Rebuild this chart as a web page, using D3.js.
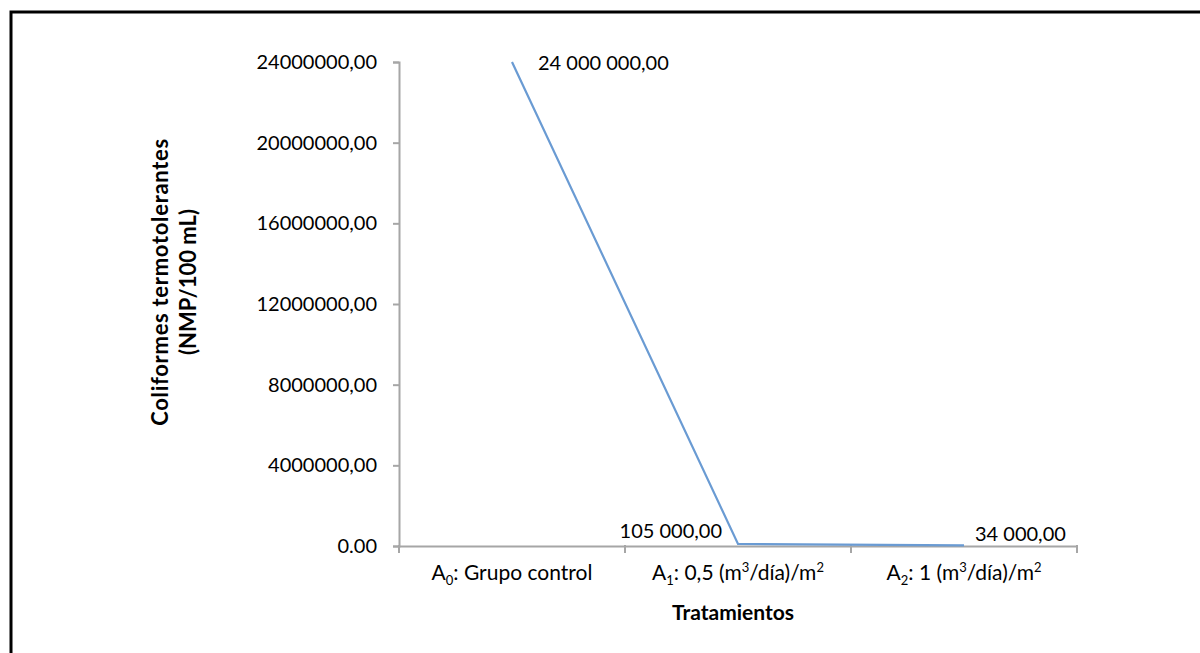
<!DOCTYPE html>
<html><head><meta charset="utf-8">
<script src="https://cdn.jsdelivr.net/npm/d3@7/dist/d3.min.js"></script>
<style>
html,body{margin:0;padding:0;background:#fff;overflow:hidden;}
text{font-family:Lato,"Open Sans",sans-serif;fill:#000;}
</style></head>
<body><svg id="c" width="1200" height="653"></svg>
<script>
const categories = ["A0", "A1", "A2"];
const categoryMain = ["A", "A", "A"];
const categorySub = ["0", "1", "2"];
const categoryRest = [": Grupo control", ": 0,5 (m|3|/día)/m|2", ": 1 (m|3|/día)/m|2"];
const values = [24000000, 105000, 34000];
const valueLabels = ["24 000 000,00", "105 000,00", "34 000,00"];
const yTicks = [0, 4000000, 8000000, 12000000, 16000000, 20000000, 24000000];
const yTickLabels = ["0.00", "4000000,00", "8000000,00", "12000000,00", "16000000,00", "20000000,00", "24000000,00"];
const yTitle = ["Coliformes termotolerantes", "(NMP/100 mL)"];
const xTitle = "Tratamientos";

(function(){
const svg = d3.select("#c");
svg.append("rect").attr("x",11).attr("y",12).attr("width",1300).attr("height",800)
  .attr("fill","none").attr("stroke","#000").attr("stroke-width",3);

const pL=399, pR=1077, pT=62, pB=546;
const x = d3.scaleBand().domain(categories).range([pL,pR]).padding(0);
const y = d3.scaleLinear().domain([0,24000000]).range([pB,pT]);
const axisColor="#a6a6a6";

// Y axis
const yAxis = d3.axisLeft(y).tickValues(yTicks).tickSize(6).tickPadding(16)
  .tickFormat(d=>yTickLabels[yTicks.indexOf(d)]);
const gy = svg.append("g").attr("transform",`translate(${pL},0)`).call(yAxis);
gy.select(".domain").attr("stroke",axisColor).attr("stroke-width",2);
gy.selectAll(".tick line").attr("stroke",axisColor).attr("stroke-width",2);
gy.selectAll(".tick text").attr("font-size",20).attr("font-family","Lato").attr("fill","#000");

// X axis
const gx = svg.append("g").attr("transform",`translate(0,${pB})`)
  .call(d3.axisBottom(x).tickSize(0).tickFormat(""));
gx.select(".domain").attr("stroke",axisColor).attr("stroke-width",2);
const bounds = [pL, ...categories.map(c=>x(c)+x.bandwidth())];
gx.selectAll("line.cat").data(bounds).join("line").attr("class","cat")
  .attr("x1",d=>d).attr("x2",d=>d).attr("y1",-1).attr("y2",7)
  .attr("stroke",axisColor).attr("stroke-width",2);

// category labels
categories.forEach((c,i)=>{
  const t = svg.append("text").attr("x",x(c)+x.bandwidth()/2).attr("y",580)
    .attr("text-anchor","middle").attr("font-size",21);
  t.append("tspan").text(categoryMain[i]);
  t.append("tspan").text(categorySub[i]).attr("font-size",13).attr("dy",5);
  const parts = categoryRest[i].split("|");
  parts.forEach((p,j)=>{
    const ts = t.append("tspan").text(p);
    if(j===0) ts.attr("dy",-5);
    else if(j%2===1) ts.attr("font-size",13).attr("dy",-8);
    else ts.attr("dy",8);
  });
});

// line
const line = d3.line().x((d,i)=>x(categories[i])+x.bandwidth()/2).y(d=>y(d));
svg.append("path").datum(values).attr("d",line).attr("fill","none")
  .attr("stroke","#6a9bd3").attr("stroke-width",2.2);

// data labels
const lblPos = [{dx:26,dy:0,anchor:"start"},{dx:-16,dy:-14,anchor:"end"},{dx:11,dy:-12,anchor:"start"}];
values.forEach((v,i)=>{
  svg.append("text").attr("x",x(categories[i])+x.bandwidth()/2+lblPos[i].dx)
    .attr("y",y(v)+lblPos[i].dy).attr("dominant-baseline","central")
    .attr("text-anchor",lblPos[i].anchor).attr("font-size",20).text(valueLabels[i]);
});

// titles
const yt = svg.append("text").attr("transform","translate(168,282) rotate(-90)")
  .attr("text-anchor","middle").attr("font-size",22).attr("font-weight","bold");
yt.append("tspan").attr("x",0).attr("dy",0).attr("letter-spacing",0.7).text(yTitle[0]);
yt.append("tspan").attr("x",0).attr("dy",28).text(yTitle[1]);

svg.append("text").attr("x",733).attr("y",620).attr("text-anchor","middle")
  .attr("font-size",21).attr("font-weight","bold").text(xTitle);
})();
</script></body></html>
